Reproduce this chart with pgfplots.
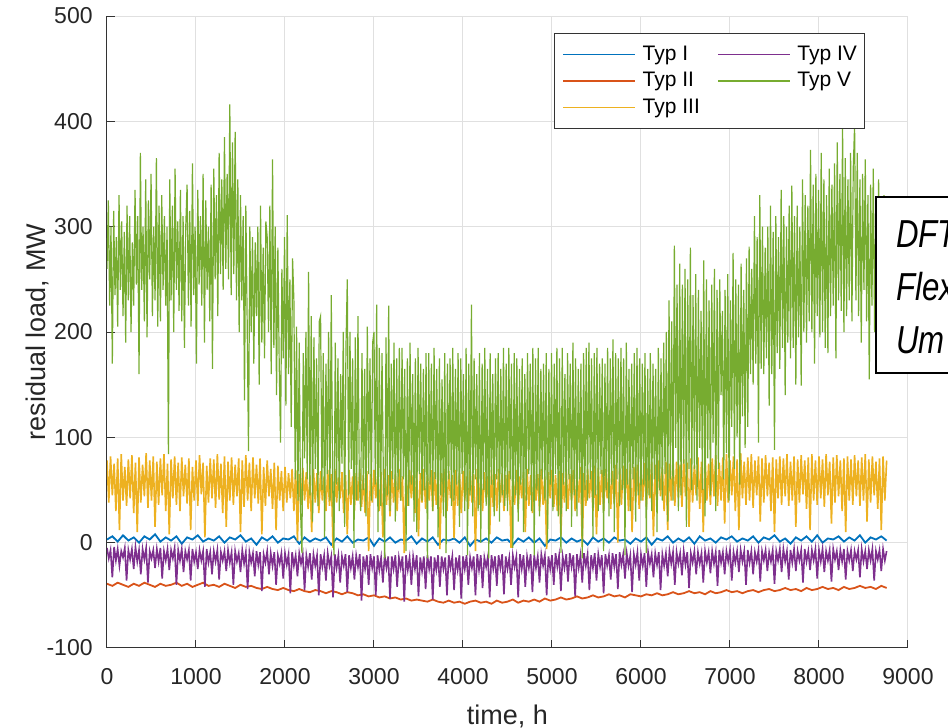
\documentclass[border=0pt]{standalone}
\usepackage{fontspec}
\setmainfont{Liberation Sans}
\usepackage{graphicx}
\usepackage{pgfplots}
\pgfplotsset{compat=1.18}
\definecolor{mblue}{RGB}{0,114,189}
\definecolor{morange}{RGB}{217,83,25}
\definecolor{myellow}{RGB}{237,177,32}
\definecolor{mpurple}{RGB}{126,47,142}
\definecolor{mgreen}{RGB}{119,172,48}
\begin{document}
\begin{tikzpicture}
\begin{axis}[
  scale only axis, width=400.5pt, height=316pt,
  xmin=0, xmax=9000, ymin=-100, ymax=500,
  xtick={0,1000,...,9000}, ytick={-100,0,...,500},
  axis x line*=bottom, axis y line*=left,
  axis line style={-, black!80, line width=0.5pt},
  tick align=inside, major tick length=4pt,
  tick style={black!80, line width=0.5pt},
  grid=major, major grid style={black!12, line width=0.5pt},
  /pgf/number format/assume math mode=true,
  /pgf/number format/1000 sep={},
  tick label style={font=\fontsize{11.5}{13}\selectfont, inner sep=0pt, text=black!85},
  xticklabel shift=10pt, yticklabel shift=7pt,
  xlabel={time, h}, ylabel={residual load, MW},
  every axis x label/.style={at={(axis description cs:0.5,-0.1218)}, anchor=base, inner sep=0pt, text=black!85, font=\fontsize{13.5}{16}\selectfont},
  every axis y label/.style={at={(axis description cs:-0.0774,0.5)}, rotate=90, anchor=base, inner sep=0pt, text=black!85, font=\fontsize{13.5}{16}\selectfont},
  legend columns=2,
  legend image code/.code={\draw[#1] (0pt,0pt) -- (36pt,0pt);},
  legend style={
    at={(axis description cs:0.9463,0.9726)}, anchor=north east,
    draw=black!80, line width=0.5pt, fill=white,
    font=\fontsize{10.5}{12}\selectfont,
    inner xsep=3.8pt, inner ysep=6pt,
    /tikz/every odd column/.append style={column sep=3.3pt},
    /tikz/every even column/.append style={column sep=8.7pt},
    /tikz/row sep=4.5pt,
    cells={anchor=west},
    nodes={inner sep=0pt},
  },
]
% Typ I
\addplot[mblue, line width=0.9pt, forget plot] coordinates {
(0,3)(60,6)(120,1)(180,7)(240,2)(300,5)(360,0)(420,6)(480,3)(540,8)(600,1)(660,5)(720,2)(780,6)(840,-1)(900,5)(960,3)(1020,7)(1080,1)(1140,4)
(1200,2)(1260,6)(1320,0)(1380,5)(1440,3)(1500,7)(1560,1)(1620,4)(1680,-2)(1740,5)(1800,2)(1860,6)(1920,0)(1980,4)(2040,3)(2100,6)(2160,-1)(2220,5)(2280,1)(2340,4)
(2400,2)(2460,5)(2520,-2)(2580,4)(2640,1)(2700,6)(2760,0)(2820,3)(2880,2)(2940,5)(3000,-3)(3060,4)(3120,1)(3180,5)(3240,0)(3300,3)(3360,2)(3420,6)(3480,-1)(3540,4)
(3600,1)(3660,5)(3720,-2)(3780,3)(3840,2)(3900,4)(3960,0)(4020,5)(4080,-3)(4140,3)(4200,1)(4260,4)(4320,0)(4380,5)(4440,2)(4500,3)(4560,-2)(4620,4)(4680,1)(4740,5)
(4800,0)(4860,4)(4920,-3)(4980,3)(5040,2)(5100,5)(5160,0)(5220,4)(5280,1)(5340,3)(5400,-2)(5460,5)(5520,1)(5580,4)(5640,0)(5700,5)(5760,2)(5820,3)(5880,-1)(5940,4)
(6000,1)(6060,5)(6120,-2)(6180,4)(6240,2)(6300,6)(6360,0)(6420,4)(6480,1)(6540,5)(6600,-1)(6660,6)(6720,2)(6780,4)(6840,0)(6900,5)(6960,3)(7020,6)(7080,1)(7140,4)
(7200,2)(7260,6)(7320,0)(7380,5)(7440,3)(7500,7)(7560,1)(7620,4)(7680,-1)(7740,5)(7800,2)(7860,6)(7920,1)(7980,7)(8040,0)(8100,4)(8160,3)(8220,6)(8280,1)(8340,5)
(8400,2)(8460,7)(8520,0)(8580,5)(8640,3)(8700,6)(8760,2)
};
% Typ II
\addplot[morange, line width=0.9pt, forget plot] coordinates {
(0,-39)(60,-41)(120,-38)(180,-40)(240,-42)(300,-39)(360,-41)(420,-38)(480,-40)(540,-42)(600,-39)(660,-41)(720,-40)(780,-38)(840,-41)(900,-39)(960,-42)(1020,-40)(1080,-38)(1140,-41)
(1200,-40)(1260,-42)(1320,-39)(1380,-41)(1440,-43)(1500,-40)(1560,-42)(1620,-41)(1680,-43)(1740,-44)(1800,-42)(1860,-44)(1920,-45)(1980,-43)(2040,-45)(2100,-46)(2160,-44)(2220,-46)(2280,-47)(2340,-45)
(2400,-46)(2460,-48)(2520,-46)(2580,-47)(2640,-49)(2700,-47)(2760,-48)(2820,-50)(2880,-49)(2940,-51)(3000,-50)(3060,-52)(3120,-51)(3180,-53)(3240,-52)(3300,-54)(3360,-53)(3420,-55)(3480,-54)(3540,-55)
(3600,-56)(3660,-54)(3720,-56)(3780,-57)(3840,-55)(3900,-57)(3960,-56)(4020,-58)(4080,-56)(4140,-55)(4200,-57)(4260,-56)(4320,-58)(4380,-55)(4440,-57)(4500,-56)(4560,-54)(4620,-57)(4680,-55)(4740,-56)
(4800,-54)(4860,-56)(4920,-53)(4980,-55)(5040,-54)(5100,-52)(5160,-54)(5220,-53)(5280,-51)(5340,-53)(5400,-52)(5460,-50)(5520,-52)(5580,-51)(5640,-49)(5700,-51)(5760,-50)(5820,-52)(5880,-49)(5940,-50)
(6000,-51)(6060,-49)(6120,-50)(6180,-48)(6240,-50)(6300,-49)(6360,-47)(6420,-49)(6480,-48)(6540,-46)(6600,-48)(6660,-47)(6720,-49)(6780,-46)(6840,-48)(6900,-47)(6960,-45)(7020,-47)(7080,-46)(7140,-48)
(7200,-46)(7260,-45)(7320,-47)(7380,-45)(7440,-44)(7500,-46)(7560,-45)(7620,-43)(7680,-45)(7740,-44)(7800,-46)(7860,-43)(7920,-45)(7980,-44)(8040,-42)(8100,-44)(8160,-43)(8220,-45)(8280,-42)(8340,-44)
(8400,-43)(8460,-41)(8520,-43)(8580,-42)(8640,-44)(8700,-41)(8760,-43)
};
% Typ III
\addplot[myellow, line width=0.8pt, forget plot] coordinates {
(0,78)(20,38)(40,82)(60,45)(80,75)(100,30)(120,80)(140,12)(160,84)(180,40)(200,72)(220,35)(240,79)(260,42)(280,83)(300,28)(320,76)(340,10)(360,81)(380,38)
(400,74)(420,44)(440,85)(460,33)(480,78)(500,40)(520,82)(540,15)(560,77)(580,36)(600,80)(620,45)(640,84)(660,30)(680,75)(700,8)(720,79)(740,42)(760,82)(780,36)
(800,76)(820,30)(840,81)(860,44)(880,74)(900,37)(920,80)(940,12)(960,72)(980,40)(1000,78)(1020,35)(1040,83)(1060,46)(1080,76)(1100,5)(1120,73)(1140,38)(1160,80)(1180,42)
(1200,79)(1220,33)(1240,84)(1260,41)(1280,75)(1300,28)(1320,82)(1340,15)(1360,77)(1380,40)(1400,81)(1420,36)(1440,74)(1460,44)(1480,80)(1500,10)(1520,78)(1540,34)(1560,83)(1580,40)
(1600,76)(1620,30)(1640,81)(1660,42)(1680,74)(1700,37)(1720,80)(1740,8)(1760,72)(1780,35)(1800,78)(1820,44)(1840,70)(1860,32)(1880,76)(1900,12)(1920,73)(1940,40)(1960,68)(1980,30)
(2000,72)(2020,38)(2040,66)(2060,42)(2080,70)(2100,30)(2120,69)(2140,2)(2160,65)(2180,36)(2200,71)(2220,40)(2240,67)(2260,32)(2280,64)(2300,10)(2320,70)(2340,38)(2360,66)(2380,28)
(2400,68)(2420,40)(2440,63)(2460,30)(2480,69)(2500,35)(2520,65)(2540,-5)(2560,70)(2580,38)(2600,62)(2620,42)(2640,67)(2660,28)(2680,64)(2700,8)(2720,69)(2740,36)(2760,63)(2780,30)
(2800,66)(2820,40)(2840,70)(2860,34)(2880,64)(2900,28)(2920,68)(2940,-8)(2960,65)(2980,38)(3000,69)(3020,42)(3040,63)(3060,30)(3080,67)(3100,5)(3120,70)(3140,36)(3160,64)(3180,25)
(3200,68)(3220,38)(3240,65)(3260,30)(3280,70)(3300,40)(3320,63)(3340,-10)(3360,67)(3380,35)(3400,69)(3420,42)(3440,64)(3460,28)(3480,68)(3500,6)(3520,66)(3540,38)(3560,70)(3580,32)
(3600,65)(3620,40)(3640,69)(3660,30)(3680,67)(3700,36)(3720,72)(3740,-6)(3760,66)(3780,38)(3800,70)(3820,30)(3840,68)(3860,42)(3880,64)(3900,4)(3920,69)(3940,35)(3960,66)(3980,28)
(4000,68)(4020,40)(4040,63)(4060,32)(4080,69)(4100,38)(4120,65)(4140,-8)(4160,70)(4180,36)(4200,64)(4220,30)(4240,67)(4260,42)(4280,63)(4300,8)(4320,69)(4340,34)(4360,65)(4380,30)
(4400,70)(4420,38)(4440,66)(4460,30)(4480,64)(4500,40)(4520,68)(4540,-5)(4560,65)(4580,36)(4600,69)(4620,32)(4640,63)(4660,42)(4680,67)(4700,10)(4720,70)(4740,35)(4760,64)(4780,28)
(4800,68)(4820,40)(4840,65)(4860,30)(4880,70)(4900,36)(4920,63)(4940,-6)(4960,67)(4980,42)(5000,69)(5020,34)(5040,64)(5060,30)(5080,68)(5100,6)(5120,66)(5140,38)(5160,70)(5180,32)
(5200,65)(5220,40)(5240,69)(5260,30)(5280,67)(5300,38)(5320,72)(5340,-4)(5360,66)(5380,35)(5400,70)(5420,42)(5440,68)(5460,30)(5480,73)(5500,8)(5520,71)(5540,36)(5560,69)(5580,30)
(5600,70)(5620,42)(5640,72)(5660,32)(5680,68)(5700,38)(5720,74)(5740,0)(5760,71)(5780,36)(5800,73)(5820,44)(5840,70)(5860,30)(5880,75)(5900,10)(5920,72)(5940,38)(5960,74)(5980,32)
(6000,73)(6020,40)(6040,76)(6060,34)(6080,71)(6100,42)(6120,77)(6140,6)(6160,74)(6180,36)(6200,78)(6220,44)(6240,72)(6260,30)(6280,77)(6300,12)(6320,75)(6340,40)(6360,79)(6380,35)
(6400,77)(6420,42)(6440,74)(6460,34)(6480,79)(6500,44)(6520,76)(6540,15)(6560,80)(6580,38)(6600,74)(6620,45)(6640,81)(6660,32)(6680,77)(6700,10)(6720,82)(6740,40)(6760,75)(6780,36)
(6800,80)(6820,44)(6840,83)(6860,35)(6880,76)(6900,40)(6920,81)(6940,18)(6960,84)(6980,38)(7000,78)(7020,45)(7040,82)(7060,30)(7080,79)(7100,12)(7120,85)(7140,42)(7160,77)(7180,36)
(7200,81)(7220,40)(7240,84)(7260,33)(7280,78)(7300,45)(7320,82)(7340,20)(7360,80)(7380,38)(7400,83)(7420,44)(7440,76)(7460,30)(7480,81)(7500,10)(7520,79)(7540,42)(7560,82)(7580,36)
(7600,80)(7620,44)(7640,84)(7660,35)(7680,77)(7700,40)(7720,82)(7740,15)(7760,79)(7780,38)(7800,83)(7820,46)(7840,78)(7860,32)(7880,81)(7900,12)(7920,84)(7940,40)(7960,78)(7980,36)
(8000,82)(8020,42)(8040,79)(8060,34)(8080,84)(8100,45)(8120,77)(8140,18)(8160,81)(8180,38)(8200,83)(8220,44)(8240,78)(8260,30)(8280,80)(8300,10)(8320,82)(8340,40)(8360,79)(8380,36)
(8400,83)(8420,44)(8440,78)(8460,35)(8480,81)(8500,40)(8520,84)(8540,20)(8560,79)(8580,38)(8600,82)(8620,45)(8640,77)(8660,32)(8680,80)(8700,12)(8720,82)(8740,40)(8760,78)
};
% Typ IV
\addplot[mpurple, line width=0.8pt, forget plot] coordinates {
(0,-5)(20,-15)(40,-7)(60,-33)(80,-4)(100,-17)(120,-6)(140,-22)(160,-8)(180,-14)(200,-5)(220,-36)(240,-7)(260,-16)(280,-6)(300,-25)(320,-4)(340,-18)(360,-7)(380,-30)
(400,-6)(420,-16)(440,-5)(460,-38)(480,-8)(500,-15)(520,-7)(540,-24)(560,-6)(580,-18)(600,-5)(620,-34)(640,-8)(660,-17)(680,-6)(700,-26)(720,-7)(740,-15)(760,-5)(780,-40)
(800,-7)(820,-17)(840,-6)(860,-28)(880,-8)(900,-16)(920,-7)(940,-36)(960,-6)(980,-18)(1000,-9)(1020,-25)(1040,-7)(1060,-17)(1080,-8)(1100,-42)(1120,-6)(1140,-19)(1160,-9)(1180,-30)
(1200,-8)(1220,-18)(1240,-7)(1260,-35)(1280,-9)(1300,-17)(1320,-8)(1340,-27)(1360,-7)(1380,-19)(1400,-9)(1420,-40)(1440,-8)(1460,-18)(1480,-10)(1500,-28)(1520,-7)(1540,-20)(1560,-9)(1580,-44)
(1600,-9)(1620,-19)(1640,-10)(1660,-32)(1680,-8)(1700,-21)(1720,-9)(1740,-46)(1760,-11)(1780,-19)(1800,-8)(1820,-30)(1840,-10)(1860,-22)(1880,-9)(1900,-40)(1920,-12)(1940,-20)(1960,-10)(1980,-34)
(2000,-10)(2020,-21)(2040,-11)(2060,-48)(2080,-9)(2100,-22)(2120,-12)(2140,-32)(2160,-10)(2180,-20)(2200,-11)(2220,-45)(2240,-12)(2260,-23)(2280,-10)(2300,-35)(2320,-11)(2340,-22)(2360,-12)(2380,-50)
(2400,-11)(2420,-23)(2440,-12)(2460,-36)(2480,-10)(2500,-22)(2520,-13)(2540,-52)(2560,-11)(2580,-24)(2600,-12)(2620,-38)(2640,-13)(2660,-22)(2680,-11)(2700,-47)(2720,-12)(2740,-24)(2760,-13)(2780,-35)
(2800,-12)(2820,-23)(2840,-11)(2860,-55)(2880,-13)(2900,-25)(2920,-12)(2940,-40)(2960,-11)(2980,-24)(3000,-13)(3020,-50)(3040,-12)(3060,-26)(3080,-14)(3100,-38)(3120,-12)(3140,-24)(3160,-13)(3180,-53)
(3200,-13)(3220,-25)(3240,-12)(3260,-42)(3280,-14)(3300,-24)(3320,-13)(3340,-56)(3360,-12)(3380,-26)(3400,-14)(3420,-40)(3440,-13)(3460,-25)(3480,-12)(3500,-51)(3520,-14)(3540,-27)(3560,-13)(3580,-44)
(3600,-12)(3620,-25)(3640,-13)(3660,-54)(3680,-14)(3700,-26)(3720,-12)(3740,-42)(3760,-13)(3780,-25)(3800,-14)(3820,-50)(3840,-12)(3860,-24)(3880,-13)(3900,-45)(3920,-14)(3940,-26)(3960,-12)(3980,-53)
(4000,-13)(4020,-25)(4040,-12)(4060,-40)(4080,-14)(4100,-24)(4120,-13)(4140,-50)(4160,-11)(4180,-26)(4200,-12)(4220,-43)(4240,-14)(4260,-23)(4280,-13)(4300,-52)(4320,-12)(4340,-25)(4360,-13)(4380,-41)
(4400,-12)(4420,-24)(4440,-11)(4460,-49)(4480,-13)(4500,-25)(4520,-14)(4540,-40)(4560,-12)(4580,-23)(4600,-13)(4620,-52)(4640,-11)(4660,-25)(4680,-12)(4700,-42)(4720,-13)(4740,-24)(4760,-11)(4780,-47)
(4800,-12)(4820,-24)(4840,-13)(4860,-38)(4880,-11)(4900,-22)(4920,-12)(4940,-50)(4960,-13)(4980,-25)(5000,-12)(5020,-40)(5040,-10)(5060,-23)(5080,-12)(5100,-46)(5120,-13)(5140,-24)(5160,-11)(5180,-37)
(5200,-10)(5220,-23)(5240,-12)(5260,-51)(5280,-11)(5300,-24)(5320,-12)(5340,-38)(5360,-10)(5380,-22)(5400,-11)(5420,-45)(5440,-12)(5460,-24)(5480,-10)(5500,-36)(5520,-11)(5540,-23)(5560,-12)(5580,-48)
(5600,-11)(5620,-22)(5640,-12)(5660,-35)(5680,-10)(5700,-23)(5720,-11)(5740,-44)(5760,-9)(5780,-21)(5800,-11)(5820,-34)(5840,-10)(5860,-22)(5880,-12)(5900,-47)(5920,-11)(5940,-21)(5960,-9)(5980,-36)
(6000,-11)(6020,-22)(6040,-10)(6060,-42)(6080,-9)(6100,-20)(6120,-11)(6140,-33)(6160,-10)(6180,-21)(6200,-9)(6220,-45)(6240,-11)(6260,-22)(6280,-10)(6300,-32)(6320,-8)(6340,-20)(6360,-9)(6380,-40)
(6400,-9)(6420,-20)(6440,-10)(6460,-31)(6480,-8)(6500,-21)(6520,-9)(6540,-43)(6560,-10)(6580,-19)(6600,-8)(6620,-30)(6640,-9)(6660,-20)(6680,-10)(6700,-38)(6720,-8)(6740,-19)(6760,-9)(6780,-29)
(6800,-8)(6820,-20)(6840,-9)(6860,-41)(6880,-7)(6900,-19)(6920,-9)(6940,-30)(6960,-8)(6980,-18)(7000,-7)(7020,-36)(7040,-9)(7060,-19)(7080,-8)(7100,-28)(7120,-7)(7140,-18)(7160,-8)(7180,-40)
(7200,-7)(7220,-19)(7240,-8)(7260,-30)(7280,-9)(7300,-18)(7320,-7)(7340,-37)(7360,-8)(7380,-17)(7400,-7)(7420,-27)(7440,-9)(7460,-18)(7480,-7)(7500,-39)(7520,-8)(7540,-17)(7560,-6)(7580,-28)
(7600,-6)(7620,-18)(7640,-8)(7660,-35)(7680,-7)(7700,-19)(7720,-6)(7740,-27)(7760,-8)(7780,-17)(7800,-7)(7820,-38)(7840,-6)(7860,-18)(7880,-8)(7900,-26)(7920,-7)(7940,-17)(7960,-6)(7980,-34)
(8000,-7)(8020,-18)(8040,-6)(8060,-28)(8080,-8)(8100,-17)(8120,-7)(8140,-37)(8160,-6)(8180,-16)(8200,-8)(8220,-26)(8240,-7)(8260,-18)(8280,-6)(8300,-35)(8320,-8)(8340,-17)(8360,-7)(8380,-27)
(8400,-8)(8420,-16)(8440,-7)(8460,-33)(8480,-6)(8500,-18)(8520,-8)(8540,-25)(8560,-7)(8580,-17)(8600,-6)(8620,-36)(8640,-8)(8660,-16)(8680,-7)(8700,-27)(8720,-6)(8740,-17)(8760,-8)
};
% Typ V
\addplot[mgreen, line width=0.6pt, forget plot] coordinates {
(0,260)(15,325)(30,225)(45,300)(60,170)(75,315)(90,235)(105,290)(120,205)(135,330)(150,240)(165,305)(180,215)(195,295)(210,190)(225,320)(240,230)(255,310)(270,200)(285,285)
(300,225)(315,335)(330,245)(345,310)(360,160)(375,370)(390,240)(405,300)(420,210)(435,345)(450,195)(465,325)(480,250)(495,350)(510,215)(525,300)(540,230)(555,365)(570,205)(585,320)
(600,210)(615,330)(630,240)(645,310)(660,225)(675,300)(690,84)(705,345)(720,230)(735,320)(750,200)(765,355)(780,240)(795,305)(810,220)(825,335)(840,210)(855,310)(870,185)(885,300)
(900,340)(915,225)(930,315)(945,205)(960,360)(975,235)(990,300)(1005,170)(1020,335)(1035,245)(1050,310)(1065,225)(1080,350)(1095,190)(1110,325)(1125,240)(1140,300)(1155,210)(1170,340)(1185,165)
(1200,355)(1215,250)(1230,330)(1245,215)(1260,370)(1275,255)(1290,345)(1305,240)(1320,385)(1335,260)(1350,350)(1365,250)(1380,416)(1395,235)(1410,380)(1425,255)(1440,390)(1455,230)(1470,345)(1485,200)
(1500,330)(1515,230)(1530,310)(1545,135)(1560,320)(1575,210)(1590,87)(1605,300)(1620,200)(1635,290)(1650,170)(1665,285)(1680,215)(1695,300)(1710,150)(1725,320)(1740,190)(1755,280)(1770,175)(1785,305)
(1800,290)(1815,200)(1830,320)(1845,160)(1860,364)(1875,185)(1890,300)(1905,140)(1920,280)(1935,170)(1950,95)(1965,260)(1980,175)(1995,290)(2010,130)(2025,311)(2040,160)(2055,250)(2070,110)(2085,270)
(2100,230)(2115,60)(2130,205)(2145,40)(2160,190)(2175,30)(2190,-10)(2205,180)(2220,80)(2235,200)(2250,60)(2265,257)(2280,45)(2295,215)(2310,20)(2325,195)(2340,70)(2355,175)(2370,35)(2385,210)
(2400,215)(2415,50)(2430,180)(2445,5)(2460,170)(2475,65)(2490,200)(2505,40)(2520,235)(2535,60)(2550,-12)(2565,190)(2580,55)(2595,175)(2610,30)(2625,160)(2640,75)(2655,200)(2670,15)(2685,185)
(2700,250)(2715,45)(2730,200)(2745,70)(2760,175)(2775,-5)(2790,195)(2805,40)(2820,215)(2835,60)(2850,30)(2865,180)(2880,50)(2895,165)(2910,25)(2925,205)(2940,65)(2955,175)(2970,40)(2985,190)
(3000,200)(3015,55)(3030,226)(3045,10)(3060,185)(3075,35)(3090,180)(3105,65)(3120,-15)(3135,195)(3150,45)(3165,225)(3180,30)(3195,170)(3210,60)(3225,190)(3240,20)(3255,175)(3270,50)(3285,185)
(3300,40)(3315,185)(3330,60)(3345,165)(3360,-8)(3375,175)(3390,35)(3405,190)(3420,55)(3435,160)(3450,20)(3465,175)(3480,10)(3495,185)(3510,65)(3525,170)(3540,40)(3555,165)(3570,50)(3585,180)
(3600,-15)(3615,180)(3630,55)(3645,170)(3660,30)(3675,185)(3690,60)(3705,165)(3720,5)(3735,175)(3750,45)(3765,155)(3780,25)(3795,180)(3810,-10)(3825,170)(3840,60)(3855,175)(3870,35)(3885,185)
(3900,40)(3915,165)(3930,55)(3945,180)(3960,15)(3975,175)(3990,65)(4005,160)(4020,30)(4035,185)(4050,-12)(4065,170)(4080,45)(4095,226)(4110,25)(4125,175)(4140,60)(4155,160)(4170,30)(4185,180)
(4200,0)(4215,170)(4230,50)(4245,185)(4260,35)(4275,165)(4290,-15)(4305,180)(4320,55)(4335,160)(4350,25)(4365,175)(4380,60)(4395,180)(4410,20)(4425,165)(4440,45)(4455,185)(4470,35)(4485,170)
(4500,30)(4515,185)(4530,60)(4545,170)(4560,-5)(4575,180)(4590,45)(4605,175)(4620,20)(4635,165)(4650,55)(4665,175)(4680,10)(4695,160)(4710,40)(4725,180)(4740,65)(4755,170)(4770,30)(4785,185)
(4800,-12)(4815,175)(4830,50)(4845,185)(4860,25)(4875,165)(4890,60)(4905,170)(4920,40)(4935,180)(4950,0)(4965,165)(4980,55)(4995,180)(5010,30)(5025,170)(5040,65)(5055,185)(5070,25)(5085,175)
(5100,-10)(5115,185)(5130,55)(5145,160)(5160,30)(5175,180)(5190,60)(5205,170)(5220,15)(5235,190)(5250,45)(5265,175)(5280,25)(5295,165)(5310,60)(5325,170)(5340,-15)(5355,180)(5370,50)(5385,185)
(5400,40)(5415,190)(5430,60)(5445,175)(5460,5)(5475,180)(5490,45)(5505,185)(5520,30)(5535,170)(5550,65)(5565,175)(5580,-8)(5595,170)(5610,50)(5625,185)(5640,25)(5655,175)(5670,55)(5685,193)
(5700,10)(5715,180)(5730,60)(5745,175)(5760,35)(5775,185)(5790,50)(5805,175)(5820,-12)(5835,190)(5850,55)(5865,165)(5880,30)(5895,170)(5910,60)(5925,180)(5940,20)(5955,185)(5970,45)(5985,175)
(6000,40)(6015,170)(6030,55)(6045,180)(6060,-10)(6075,165)(6090,45)(6105,180)(6120,30)(6135,170)(6150,60)(6165,165)(6180,10)(6195,185)(6210,50)(6225,175)(6240,40)(6255,190)(6270,65)(6285,200)
(6300,20)(6315,230)(6330,60)(6345,210)(6360,40)(6375,282)(6390,90)(6405,245)(6420,30)(6435,265)(6450,45)(6465,245)(6480,75)(6495,260)(6510,15)(6525,250)(6540,70)(6555,280)(6570,50)(6585,235)
(6600,70)(6615,255)(6630,40)(6645,240)(6660,90)(6675,220)(6690,50)(6705,268)(6720,25)(6735,250)(6750,80)(6765,230)(6780,45)(6795,245)(6810,95)(6825,260)(6840,30)(6855,240)(6870,70)(6885,250)
(6900,140)(6915,220)(6930,60)(6945,240)(6960,85)(6975,255)(6990,40)(7005,230)(7020,110)(7035,275)(7050,70)(7065,250)(7080,100)(7095,245)(7110,55)(7125,265)(7140,120)(7155,240)(7170,90)(7185,270)
(7200,110)(7215,281)(7230,160)(7245,260)(7260,150)(7275,310)(7290,170)(7305,290)(7320,95)(7335,330)(7350,165)(7365,300)(7380,160)(7395,280)(7410,175)(7425,300)(7440,130)(7455,320)(7470,160)(7485,295)
(7500,88)(7515,310)(7530,180)(7545,290)(7560,165)(7575,335)(7590,185)(7605,310)(7620,140)(7635,300)(7650,190)(7665,320)(7680,175)(7695,339)(7710,185)(7725,310)(7740,150)(7755,320)(7770,195)(7785,300)
(7800,149)(7815,345)(7830,200)(7845,330)(7860,190)(7875,320)(7890,210)(7905,373)(7920,200)(7935,340)(7950,170)(7965,350)(7980,215)(7995,335)(8010,195)(8025,370)(8040,200)(8055,345)(8070,185)(8085,330)
(8100,180)(8115,355)(8130,215)(8145,340)(8160,225)(8175,360)(8190,175)(8205,380)(8220,230)(8235,350)(8250,220)(8265,394)(8280,200)(8295,365)(8310,215)(8325,345)(8340,230)(8355,370)(8370,210)(8385,355)
(8400,396)(8415,230)(8430,370)(8445,215)(8460,345)(8475,190)(8490,350)(8505,240)(8520,364)(8535,210)(8550,330)(8565,155)(8580,340)(8595,225)(8610,355)(8625,200)(8640,320)(8655,230)(8670,345)(8685,185)
(8700,300)(8715,210)(8730,330)(8745,170)(8760,280)
};
\addlegendimage{mblue, line width=0.75pt}\addlegendentry{Typ I}
\addlegendimage{mpurple, line width=0.75pt}\addlegendentry{Typ IV}
\addlegendimage{morange, line width=0.75pt}\addlegendentry{Typ II}
\addlegendimage{mgreen, line width=0.75pt}\addlegendentry{Typ V}
\addlegendimage{myellow, line width=0.75pt}\addlegendentry{Typ III}
\end{axis}
\draw[line width=1.4pt, fill=white] (384.5pt,137.5pt) rectangle (480pt,225.5pt);
\node[anchor=base west, inner sep=0pt, font=\fontsize{19.5}{24}\selectfont\itshape] at (394.5pt,200pt) {\scalebox{0.8}[1]{DFT}};
\node[anchor=base west, inner sep=0pt, font=\fontsize{19.5}{24}\selectfont\itshape] at (394.5pt,173.5pt) {\scalebox{0.8}[1]{Flex}};
\node[anchor=base west, inner sep=0pt, font=\fontsize{19.5}{24}\selectfont\itshape] at (394.5pt,147pt) {\scalebox{0.8}[1]{Um}};
\pgfresetboundingbox
\path[use as bounding box] (-53.5pt,-40pt) rectangle (420.5pt,324pt);
\end{tikzpicture}
\end{document}
